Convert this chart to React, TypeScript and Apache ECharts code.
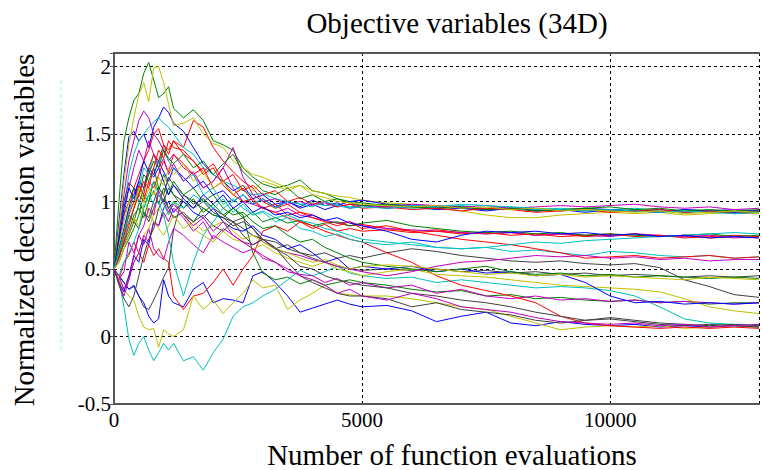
import React, { useEffect, useRef } from "react";
import * as echarts from "echarts";

// Function-evaluation sample points (shared by all 34 traces)
const X = [0, 100, 200, 300, 400, 500, 600, 700, 800, 900, 1000, 1100, 1200,
  1400, 1600, 1800, 2000, 2200, 2400, 2600, 2800, 3000,
  3250, 3500, 3750, 4000, 4250, 4500, 4750, 5000,
  5500, 6000, 6500, 7000, 7500, 8000, 8500, 9000, 9500, 10000, 10500, 11000, 11500, 12000, 12500, 13000];

const S0 = [0.50,0.85,1.20,1.48,1.52,1.45,1.50,1.40,1.55,1.62,1.70,1.66,1.58, 1.52,1.40,1.28,1.20,1.15,1.08,1.12,1.02,1.05, 0.98,1.00,0.96,1.01,0.97,0.99,0.95,0.97, 0.95,0.96,0.94,0.95,0.93,0.95,0.94,0.93,0.95,0.94,0.93,0.94,0.92,0.93,0.94,0.93];
const S1 = [0.50,1.00,1.45,1.62,1.75,1.80,1.95,2.03,1.90,1.77,1.80,1.85,1.69, 1.62,1.68,1.60,1.45,1.42,1.38,1.25,1.18,1.13, 1.10,1.12,1.16,1.08,1.06,1.02,1.00,0.99, 0.97,0.96,0.95,0.96,0.94,0.95,0.93,0.94,0.95,0.93,0.94,0.92,0.94,0.93,0.92,0.93];
const S2 = [0.50,0.60,0.78,0.95,1.10,1.20,1.30,1.38,1.50,1.54,1.42,1.35,1.45, 1.40,1.60,1.55,1.40,1.30,1.22,1.15,1.10,1.00, 0.95,0.98,0.92,0.90,0.86,0.84,0.82,0.83, 0.80,0.78,0.79,0.77,0.76,0.77,0.75,0.76,0.74,0.75,0.76,0.74,0.75,0.73,0.74,0.73];
const S3 = [0.50,0.70,0.95,1.20,1.35,1.45,1.50,1.55,1.59,1.62,1.58,1.55,1.50, 1.40,1.35,1.25,1.20,1.15,1.12,1.08,1.05,1.06, 1.02,1.00,0.98,0.99,0.97,0.98,0.96,0.97, 0.96,0.95,0.96,0.97,0.95,0.96,0.94,0.95,0.93,0.94,0.95,0.93,0.92,0.93,0.91,0.92];
const S4 = [0.50,0.75,1.05,1.30,1.45,1.60,1.67,1.62,1.50,1.45,1.38,1.30,1.35, 1.25,1.20,1.10,1.15,1.25,1.10,1.00,0.98,0.95, 0.92,0.95,0.90,0.88,0.86,0.84,0.85,0.82, 0.80,0.79,0.78,0.77,0.76,0.77,0.75,0.76,0.75,0.74,0.76,0.75,0.74,0.75,0.73,0.74];
const S5 = [0.50,0.80,1.15,1.42,1.62,1.79,1.88,1.74,1.99,2.00,1.88,1.72,1.56, 1.58,1.62,1.50,1.43,1.40,1.30,1.25,1.20,1.18, 1.14,1.10,1.12,1.08,1.06,1.04,1.03,1.01, 0.99,0.98,0.96,0.93,0.90,0.88,0.88,0.90,0.91,0.92,0.91,0.92,0.90,0.91,0.92,0.91];
const S6 = [0.50,0.45,0.40,0.35,0.37,0.30,0.22,0.20,0.27,0.35,0.44,0.51,0.79, 1.05,1.00,0.95,0.90,0.88,0.85,0.80,0.75,0.72, 0.70,0.65,0.62,0.58,0.55,0.52,0.50,0.49, 0.50,0.49,0.50,0.48,0.49,0.47,0.48,0.46,0.47,0.45,0.46,0.45,0.44,0.45,0.44,0.45];
const S7 = [0.50,0.45,0.40,0.35,0.38,0.30,0.25,0.15,0.10,0.13,0.42,0.30,0.25, 0.22,0.35,0.40,0.25,0.28,0.27,0.25,0.45,0.48, 0.40,0.30,0.18,0.21,0.24,0.27,0.24,0.22, 0.23,0.19,0.11,0.15,0.18,0.10,0.08,0.11,0.09,0.08,0.09,0.07,0.08,0.07,0.08,0.07];
const S8 = [0.50,0.70,0.90,1.00,1.10,1.05,1.20,1.15,1.25,1.10,1.05,0.95,1.00, 0.90,0.85,0.95,0.90,0.88,0.95,0.90,0.62,0.47, 0.42,0.44,0.39,0.42,0.38,0.40,0.42,0.40, 0.38,0.35,0.33,0.34,0.30,0.31,0.28,0.29,0.27,0.26,0.27,0.25,0.26,0.24,0.25,0.25];
const S9 = [0.50,0.42,0.55,0.60,0.70,0.62,0.55,0.68,0.60,0.65,0.58,0.55,0.30, 0.20,0.30,0.32,0.40,0.50,0.38,0.50,0.60,0.78, 0.82,0.78,0.85,0.80,0.83,0.78,0.80,0.78, 0.79,0.77,0.78,0.76,0.77,0.75,0.76,0.74,0.75,0.76,0.74,0.75,0.73,0.74,0.75,0.74];
const S10 = [0.50,0.42,0.22,-0.02,-0.14,-0.05,0.00,-0.10,-0.18,-0.12,-0.05,-0.10,-0.05, -0.18,-0.15,-0.25,-0.12,-0.02,0.15,0.22,0.25,0.30, 0.35,0.42,0.49,0.45,0.48,0.52,0.47,0.45, 0.43,0.44,0.40,0.42,0.40,0.38,0.36,0.37,0.36,0.34,0.30,0.22,0.13,0.10,0.09,0.08];
const S11 = [0.50,0.42,0.48,0.70,0.62,0.75,0.68,0.80,0.65,0.60,0.57,0.70,0.80, 0.75,0.68,0.62,0.75,0.70,0.66,0.62,0.65,0.60, 0.55,0.48,0.46,0.45,0.40,0.43,0.38,0.40, 0.36,0.38,0.32,0.35,0.30,0.28,0.30,0.27,0.28,0.26,0.27,0.25,0.26,0.25,0.24,0.25];
const S12 = [0.50,0.42,0.35,0.30,0.27,0.15,0.07,0.05,0.06,-0.08,0.05,0.02,0.00, 0.05,0.30,0.20,0.27,0.17,0.25,0.32,0.42,0.36, 0.38,0.20,0.27,0.32,0.38,0.32,0.31,0.30, 0.30,0.28,0.25,0.22,0.20,0.15,0.10,0.05,0.07,0.08,0.07,0.08,0.06,0.07,0.08,0.07];
const S13 = [0.50,0.75,1.00,1.14,1.10,1.00,0.92,0.85,0.95,1.05,1.00,1.10,1.05, 1.00,0.95,1.00,0.92,0.88,0.82,0.85,0.80,0.70, 0.65,0.68,0.62,0.60,0.62,0.58,0.60,0.58, 0.62,0.65,0.63,0.60,0.58,0.56,0.55,0.56,0.54,0.53,0.54,0.51,0.42,0.37,0.31,0.29];
const S14 = [0.50,0.65,0.80,0.95,1.05,1.15,1.10,1.25,1.20,1.30,1.22,1.15,1.25, 1.18,1.10,1.15,1.05,1.08,1.00,1.05,0.98,1.02, 0.96,1.00,0.95,0.98,0.94,0.97,1.00,1.01, 0.98,0.97,0.96,0.95,0.94,0.95,0.93,0.94,0.92,0.94,0.93,0.92,0.94,0.93,0.92,0.93];
const S15 = [0.50,0.55,0.65,0.72,0.80,0.90,1.05,1.00,1.15,1.08,1.20,1.12,1.05, 0.95,1.02,0.92,0.98,0.90,0.95,0.88,0.92,0.85, 0.88,0.84,0.86,0.82,0.84,0.85,0.82,0.84, 0.86,0.82,0.80,0.78,0.77,0.78,0.76,0.77,0.75,0.76,0.75,0.74,0.75,0.76,0.74,0.75];
const S16 = [0.50,0.62,0.75,0.85,0.95,1.05,1.00,1.15,1.10,1.20,1.30,1.22,1.35, 1.28,1.20,1.25,1.10,1.15,1.05,1.00,1.02,0.95, 0.92,0.88,0.85,0.82,0.78,0.75,0.72,0.70, 0.62,0.55,0.45,0.38,0.34,0.30,0.25,0.15,0.10,0.08,0.07,0.06,0.07,0.06,0.07,0.06];
const S17 = [0.50,0.60,0.72,0.85,0.95,1.10,1.25,1.20,1.35,1.28,1.40,1.30,1.25, 1.15,1.20,1.05,1.10,0.98,1.02,0.95,0.90,0.92, 0.85,0.88,0.80,0.78,0.74,0.76,0.72,0.70, 0.68,0.70,0.66,0.65,0.66,0.63,0.64,0.62,0.60,0.63,0.62,0.60,0.59,0.60,0.58,0.59];
const S18 = [0.50,0.70,0.90,1.10,1.25,1.38,1.30,1.45,1.35,1.25,1.32,1.20,1.28, 1.15,1.22,1.10,1.15,1.25,1.40,1.18,1.05,1.00, 1.02,0.98,1.00,0.97,0.99,0.96,0.98,0.97, 0.96,0.98,0.97,0.96,0.97,0.95,0.96,0.97,0.96,0.97,0.98,0.96,0.95,0.96,0.94,0.95];
const S19 = [0.50,0.42,0.35,0.45,0.55,0.62,0.75,0.80,0.90,0.95,0.88,0.92,1.00, 0.90,0.80,0.75,0.70,0.78,0.72,0.70,0.65,0.68, 0.62,0.58,0.55,0.52,0.55,0.50,0.48,0.45, 0.48,0.50,0.46,0.45,0.44,0.42,0.40,0.38,0.37,0.36,0.35,0.33,0.28,0.22,0.19,0.17];
const S20 = [0.50,0.60,0.68,0.75,0.85,0.80,0.92,0.88,1.00,1.10,1.05,1.18,1.12, 1.05,0.98,1.02,0.95,0.90,0.85,0.88,0.80,0.72, 0.66,0.55,0.45,0.40,0.36,0.32,0.30,0.30, 0.28,0.22,0.25,0.20,0.18,0.16,0.12,0.10,0.12,0.13,0.11,0.09,0.08,0.09,0.08,0.07];
const S21 = [0.50,0.40,0.33,0.45,0.60,0.55,0.72,0.68,0.85,0.82,0.95,1.00,0.92, 1.00,0.92,0.88,0.95,0.85,0.80,0.78,0.82,0.75, 0.72,0.65,0.68,0.62,0.55,0.58,0.50,0.52, 0.50,0.52,0.48,0.50,0.47,0.48,0.45,0.46,0.40,0.30,0.25,0.26,0.24,0.25,0.24,0.25];
const S22 = [0.50,0.58,0.70,0.78,0.90,0.95,0.88,1.00,1.08,0.98,1.10,1.05,1.15, 1.05,1.10,1.00,1.05,0.95,0.90,0.92,0.85,0.80, 0.82,0.75,0.70,0.72,0.66,0.62,0.58,0.55, 0.52,0.50,0.48,0.50,0.52,0.48,0.46,0.47,0.45,0.46,0.44,0.45,0.44,0.43,0.44,0.43];
const S23 = [0.50,0.62,0.75,0.90,1.00,1.12,1.05,1.25,1.35,1.30,1.42,1.38,1.45, 1.35,1.30,1.20,1.25,1.12,1.05,1.10,1.00,0.95, 0.98,0.90,0.92,0.88,0.85,0.82,0.85,0.80, 0.82,0.78,0.75,0.72,0.70,0.68,0.65,0.62,0.58,0.59,0.60,0.58,0.59,0.60,0.58,0.59];
const S24 = [0.50,0.45,0.55,0.62,0.70,0.80,0.95,1.05,1.15,1.05,0.98,0.90,1.00, 0.95,1.05,1.00,0.95,1.02,0.92,0.98,0.90,0.93, 0.88,0.90,0.86,0.84,0.80,0.78,0.75,0.72, 0.70,0.68,0.66,0.65,0.66,0.68,0.70,0.69,0.71,0.72,0.73,0.74,0.75,0.76,0.77,0.76];
const S25 = [0.50,0.40,0.30,0.42,0.55,0.62,0.75,0.70,0.85,0.82,0.92,0.85,0.95, 0.88,0.78,0.85,0.72,0.80,0.75,0.70,0.68,0.72, 0.65,0.62,0.60,0.57,0.55,0.52,0.50,0.48, 0.45,0.48,0.52,0.55,0.56,0.58,0.60,0.59,0.60,0.58,0.59,0.57,0.58,0.56,0.57,0.57];
const S26 = [0.50,0.68,0.85,1.00,0.95,1.10,1.02,0.92,0.85,0.80,0.75,0.82,0.90, 0.80,0.85,0.78,0.82,0.85,0.78,0.72,0.75,0.70, 0.65,0.62,0.58,0.55,0.57,0.53,0.50,0.52, 0.53,0.52,0.50,0.48,0.46,0.47,0.45,0.46,0.44,0.45,0.44,0.43,0.42,0.44,0.43,0.42];
const S27 = [0.50,0.38,0.28,0.22,0.30,0.45,0.60,0.72,0.80,0.95,1.02,0.95,0.88, 0.92,0.85,0.90,0.82,0.78,0.85,0.75,0.68,0.72, 0.65,0.60,0.52,0.50,0.45,0.42,0.40,0.38, 0.36,0.32,0.30,0.27,0.25,0.22,0.18,0.15,0.12,0.14,0.12,0.10,0.09,0.08,0.09,0.08];
const S28 = [0.50,0.72,0.95,1.10,1.02,1.15,1.30,1.22,1.18,1.25,1.15,1.05,1.12, 1.02,0.95,1.05,0.98,1.05,0.95,1.00,0.92,0.96, 0.90,0.92,0.88,0.90,0.86,0.88,0.84,0.82, 0.78,0.72,0.70,0.75,0.78,0.77,0.78,0.76,0.77,0.75,0.76,0.74,0.75,0.73,0.74,0.73];
const S29 = [0.50,0.65,0.78,0.90,0.85,0.98,1.10,1.20,1.30,1.25,1.38,1.32,1.28, 1.35,1.25,1.30,1.20,1.28,1.35,1.22,1.15,1.08, 1.05,1.10,1.02,1.05,1.00,1.02,0.99,0.97, 0.98,0.96,0.95,0.96,0.94,0.95,0.93,0.94,0.95,0.96,0.94,0.95,0.93,0.94,0.93,0.94];
const S30 = [0.50,0.58,0.70,0.82,0.95,1.05,1.15,1.10,1.25,1.38,1.32,1.45,1.40, 1.38,1.30,1.22,1.28,1.15,1.20,1.08,1.12,1.05, 1.08,1.00,1.03,0.98,1.00,0.96,0.98,0.95, 0.96,0.94,0.95,0.93,0.95,0.94,0.92,0.93,0.94,0.92,0.93,0.94,0.92,0.93,0.91,0.92];
const S31 = [0.50,0.62,0.78,0.92,1.05,1.00,0.95,1.05,0.98,1.00,0.90,0.75,0.55, 0.30,0.55,0.75,0.85,0.95,1.00,1.05,0.98,1.02, 0.95,1.00,0.98,0.96,1.00,0.97,0.95,0.96, 0.95,0.97,0.96,0.98,0.97,0.96,0.95,0.94,0.93,0.94,0.93,0.92,0.93,0.92,0.91,0.92];
const S32 = [0.50,0.45,0.35,0.42,0.60,0.75,0.82,0.95,0.90,1.08,1.00,0.92,0.98, 0.90,0.82,0.88,0.78,0.85,0.75,0.70,0.65,0.58, 0.55,0.50,0.45,0.42,0.38,0.32,0.35,0.30, 0.27,0.32,0.28,0.22,0.20,0.18,0.14,0.11,0.10,0.09,0.10,0.08,0.09,0.07,0.08,0.09];
const S33 = [0.50,0.55,0.65,0.75,0.88,0.82,0.98,1.10,1.05,1.18,1.12,1.25,1.20, 1.28,1.15,1.22,1.10,1.15,1.05,1.12,1.08,1.15, 1.12,1.08,1.12,1.05,1.03,1.00,0.99,0.98, 0.97,0.96,0.97,0.95,0.96,0.94,0.95,0.93,0.94,0.93,0.92,0.93,0.91,0.92,0.93,0.92];

const SERIES = [S0, S1, S2, S3, S4, S5, S6, S7, S8, S9, S10, S11, S12, S13, S14, S15, S16,
  S17, S18, S19, S20, S21, S22, S23, S24, S25, S26, S27, S28, S29, S30, S31, S32, S33];

const COLORS = ["#0000ff", "#008000", "#ff0000", "#00bfbf", "#bf00bf", "#bfbf00", "#404040"];

const X_TICKS = [0, 5000, 10000];
const TITLE = "Objective variables (34D)";
const X_TITLE = "Number of function evaluations";
const Y_TITLE = "Normalized decision variables";

const SERIF = "Liberation Serif";

export default function App() {
  const ref = useRef<HTMLDivElement>(null);
  useEffect(() => {
    document.body.style.margin = "0";
    if (!ref.current) return;
    const chart = echarts.init(ref.current, undefined, { renderer: "svg" });
    const axisLineStyle = { color: "#555555", width: 2 };
    const option: any = {
      animation: false,
      backgroundColor: "#ffffff",
      textStyle: { fontFamily: SERIF },
      grid: { left: 114, top: 53, right: -2, bottom: 66 },
      xAxis: [
        {
          type: "value", min: 0, max: 13000, interval: 5000, position: "bottom",
          axisLine: { show: true, onZero: false, lineStyle: axisLineStyle },
          axisTick: { show: false },
          axisLabel: {
            color: "#000", fontFamily: SERIF, fontSize: 21, margin: 5,
            formatter: (v: number) => (X_TICKS.indexOf(v) >= 0 ? String(v) : ""),
          },
          splitLine: { show: true, lineStyle: { color: "#000", type: [3, 3], width: 1 } },
        },
        {
          type: "value", min: 0, max: 13000, position: "top",
          axisLine: { show: true, onZero: false, lineStyle: axisLineStyle },
          axisTick: { show: false }, axisLabel: { show: false }, splitLine: { show: false },
        },
      ],
      yAxis: {
        type: "value", min: -0.5, max: 2.1, interval: 0.5,
        axisLine: { show: true, onZero: false, lineStyle: axisLineStyle },
        axisTick: { show: true, length: 4, lineStyle: { color: "#555555", width: 1 } },
        axisLabel: {
          color: "#000", fontFamily: SERIF, fontSize: 21, margin: 3,
          formatter: (v: number) => (Math.abs(v * 2 - Math.round(v * 2)) < 1e-9 ? String(v) : ""),
        },
        splitLine: { show: true, lineStyle: { color: "#000", type: [3, 3], width: 1 } },
      },
      graphic: [
        { type: "line", shape: { x1: 61, y1: 80, x2: 61, y2: 350 },
          style: { stroke: "#a8e8f0", lineWidth: 1, lineDash: [4, 3] }, silent: true },
        { type: "text", x: 457, y: 23,
          style: { text: TITLE, fontFamily: SERIF, fontSize: 29, fill: "#000", align: "center", verticalAlign: "middle" } },
        { type: "text", x: 452, y: 455,
          style: { text: X_TITLE, fontFamily: SERIF, fontSize: 29, fill: "#000", align: "center", verticalAlign: "middle" } },
        { type: "text", x: 24, y: 230, rotation: Math.PI / 2,
          style: { text: Y_TITLE, fontFamily: SERIF, fontSize: 29, fill: "#000", align: "center", verticalAlign: "middle" } },
      ],
      series: SERIES.map((vals, i) => ({
        type: "line",
        xAxisIndex: 0,
        data: X.map((x, j) => [x, vals[j]]),
        showSymbol: false,
        symbol: "none",
        silent: true,
        lineStyle: { width: 1, color: COLORS[i % COLORS.length] },
        itemStyle: { color: COLORS[i % COLORS.length] },
      })),
    };
    chart.setOption(option);
    return () => chart.dispose();
  }, []);
  return <div ref={ref} style={{ width: 762, height: 470 }} />;
}
